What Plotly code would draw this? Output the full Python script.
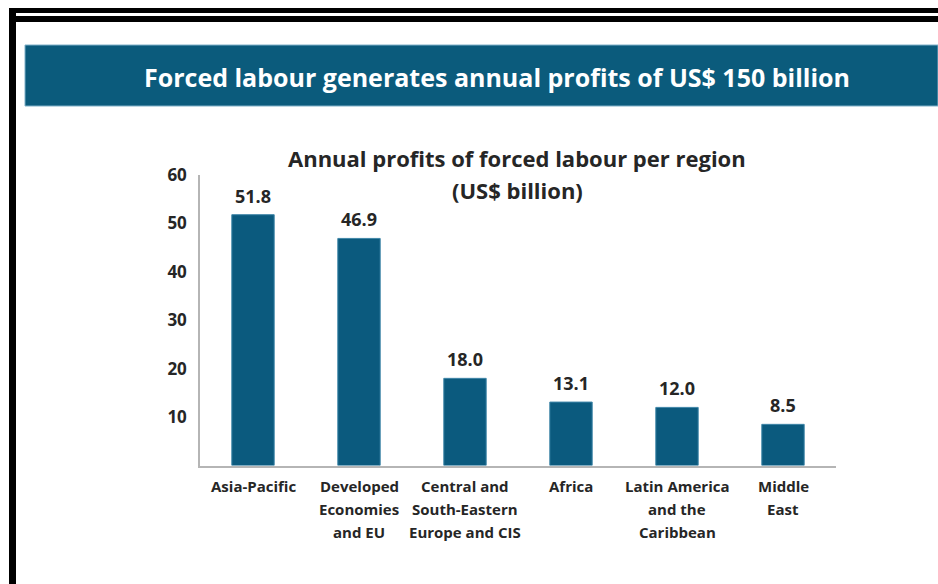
import plotly.graph_objects as go

regions = ["Asia-Pacific", "Developed Economies and EU", "Central and South-Eastern Europe and CIS",
           "Africa", "Latin America and the Caribbean", "Middle East"]
region_label_lines = [["Asia-Pacific"], ["Developed", "Economies", "and EU"],
                      ["Central and", "South-Eastern", "Europe and CIS"], ["Africa"],
                      ["Latin America", "and the", "Caribbean"], ["Middle", "East"]]
profits = [51.8, 46.9, 18.0, 13.1, 12.0, 8.5]
value_labels = ["51.8", "46.9", "18.0", "13.1", "12.0", "8.5"]
y_ticks = [10, 20, 30, 40, 50, 60]

banner_title = "Forced labour generates annual profits of US$ 150 billion"
chart_title_1 = "Annual profits of forced labour per region"
chart_title_2 = "(US$ billion)"

W, H = 938, 584
BAR = "#0b5a7e"
TXT = "#262626"
FONT = "Open Sans"

def px(x):
    return x / W

def py(y):
    return 1 - y / H

fig = go.Figure()
fig.add_trace(go.Bar(
    x=regions, y=profits,
    marker=dict(color=BAR, line=dict(color="#3f86a8", width=1)),
    width=0.4, hoverinfo="skip",
))

shapes = [
    dict(type="rect", xref="paper", yref="paper", x0=px(9), x1=1.0, y0=py(13), y1=py(8),
         fillcolor="black", line=dict(width=0), layer="above"),
    dict(type="rect", xref="paper", yref="paper", x0=px(9), x1=1.0, y0=py(22), y1=py(16),
         fillcolor="black", line=dict(width=0), layer="above"),
    dict(type="rect", xref="paper", yref="paper", x0=px(9), x1=px(16), y0=0, y1=py(8),
         fillcolor="black", line=dict(width=0), layer="above"),
    dict(type="rect", xref="paper", yref="paper", x0=px(25), x1=1.0, y0=py(106), y1=py(45),
         fillcolor="#0b5b7c", line=dict(color="#7fb0c8", width=1), layer="below"),
]

annotations = [
    dict(text=banner_title, xref="paper", yref="paper", x=px(497), y=py(77),
         xanchor="center", yanchor="middle", showarrow=False,
         font=dict(family=FONT, size=25, color="white", weight="bold")),
    dict(text=chart_title_1, xref="paper", yref="paper", x=px(517), y=py(158),
         xanchor="center", yanchor="middle", showarrow=False,
         font=dict(family=FONT, size=22, color=TXT, weight="bold")),
    dict(text=chart_title_2, xref="paper", yref="paper", x=px(517), y=py(190),
         xanchor="center", yanchor="middle", showarrow=False,
         font=dict(family=FONT, size=22, color=TXT, weight="bold")),
]

# value labels above each bar
for cat, val, lab in zip(regions, profits, value_labels):
    annotations.append(dict(
        text=lab, xref="x", yref="y", x=cat, y=val, yshift=19,
        xanchor="center", yanchor="middle", showarrow=False,
        font=dict(family=FONT, size=18, color=TXT, weight="bold")))

# category labels, one line each, placed on the category axis
for cat, lines in zip(regions, region_label_lines):
    for i, line in enumerate(lines):
        annotations.append(dict(
            text=line, xref="x", yref="paper", x=cat, y=py(486 + 23 * i),
            xanchor="center", yanchor="middle", showarrow=False,
            font=dict(family=FONT, size=15, color=TXT, weight="bold")))

fig.update_layout(
    width=W, height=H,
    margin=dict(l=0, r=0, t=0, b=0),
    paper_bgcolor="white", plot_bgcolor="white",
    showlegend=False,
    shapes=shapes, annotations=annotations,
    xaxis=dict(domain=[px(200), px(836)], showline=True, linecolor="#b5b5b5", linewidth=1.5,
               ticks="", showgrid=False, zeroline=False, showticklabels=False, automargin=False),
    yaxis=dict(domain=[py(465.5), py(175)], range=[0, 60], showline=True, linecolor="#b5b5b5",
               linewidth=1.5, ticks="", showgrid=False, zeroline=False, automargin=False,
               tickvals=y_ticks, ticklabelstandoff=8,
               tickfont=dict(family=FONT, size=17, color=TXT, weight="bold")),
)

fig.write_html("out.html", config={"displayModeBar": False},
               post_script="document.body.style.margin='0';")
